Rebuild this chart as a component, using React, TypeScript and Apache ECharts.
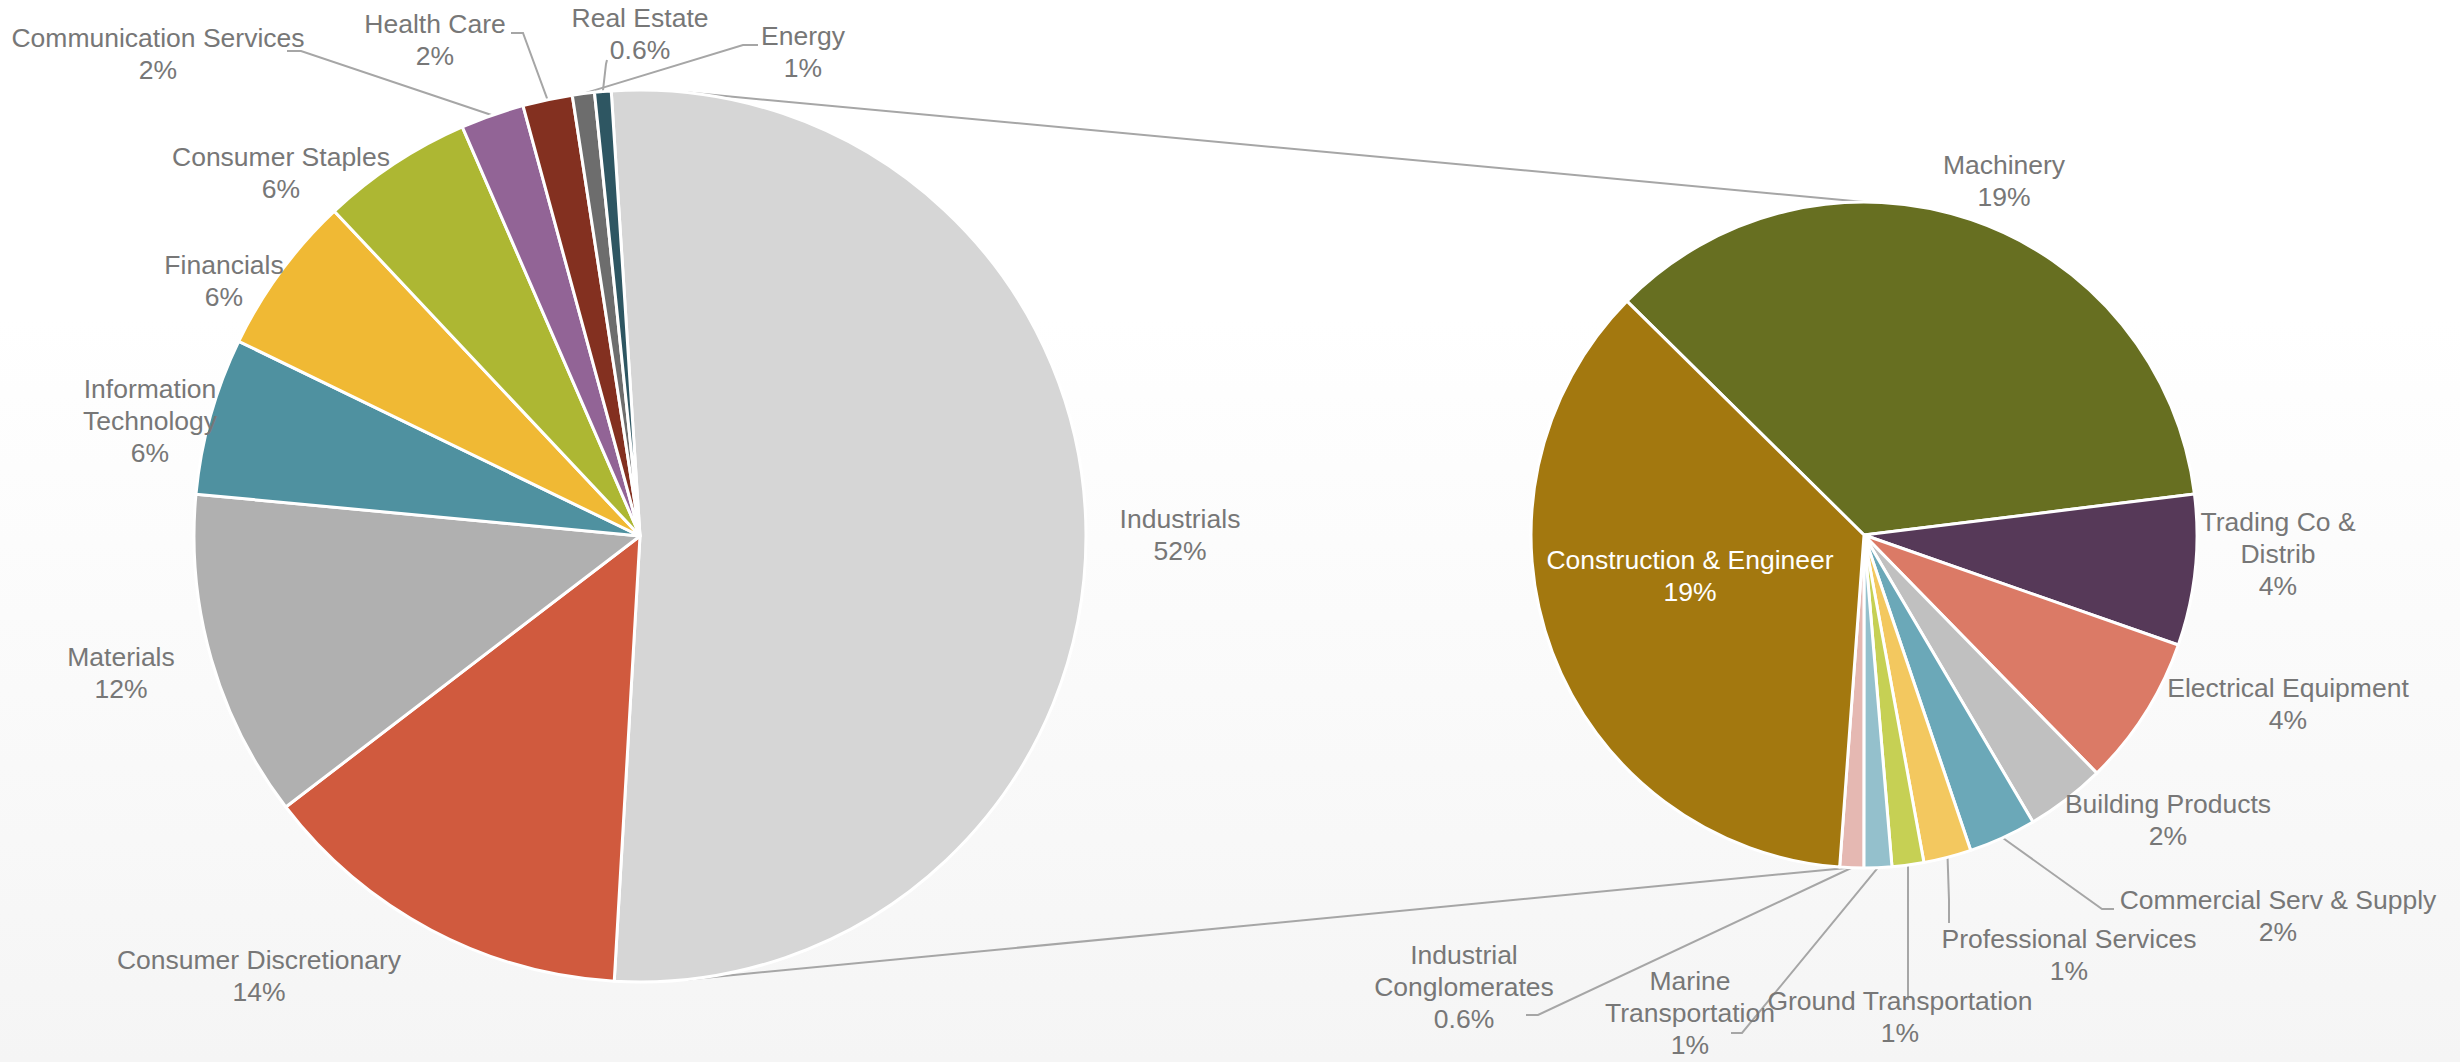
import React, { useEffect, useRef } from "react";
import * as echarts from "echarts";

// ---------------- DATA ----------------
const LEFT_NAMES = [
  "Industrials",
  "Consumer Discretionary",
  "Materials",
  "Information\nTechnology",
  "Financials",
  "Consumer Staples",
  "Communication Services",
  "Health Care",
  "Energy",
  "Real Estate",
];
const LEFT_VALUES = [52.0, 13.7, 11.9, 5.7, 5.8, 5.5, 2.3, 1.8, 0.8, 0.6];
const LEFT_COLORS = [
  "#d6d6d6",
  "#d05a3e",
  "#b0b0b0",
  "#4f91a0",
  "#f0b934",
  "#adb733",
  "#926496",
  "#833020",
  "#6d6d6d",
  "#2e5662",
];

const RIGHT_NAMES = [
  "Machinery",
  "Trading Co &\nDistrib",
  "Electrical Equipment",
  "Building Products",
  "Commercial Serv & Supply",
  "Professional Services",
  "Ground Transportation",
  "Marine\nTransportation",
  "Industrial\nConglomerates",
  "Construction & Engineer",
];
const RIGHT_VALUES = [18.5, 3.8, 3.8, 2.0, 1.7, 1.2, 0.8, 0.7, 0.6, 18.8];
const RIGHT_COLORS = [
  "#676f21",
  "#563958",
  "#db7a66",
  "#c0c0c0",
  "#6ba8b8",
  "#f3c85f",
  "#c6d054",
  "#94c0cc",
  "#e5b8b2",
  "#a3780f",
];

// ---------------- LAYOUT ----------------
const W = 2460;
const H = 1062;
const LEFT_CENTER = [640, 536];
const LEFT_R = 446;
const LEFT_START = 93.7;
const RIGHT_CENTER = [1864, 535];
const RIGHT_R = 333;
const RIGHT_START = 135.4;

// label block centres
const LEFT_LABEL_POS: number[][] = [
  [1180, 535],
  [259, 976],
  [121, 673],
  [150, 421],
  [224, 281],
  [281, 173],
  [158, 54],
  [435, 40],
  [803, 52],
  [640, 34],
];
// leader line bend + end points (null = no leader)
const LEFT_LEADERS: (number[][] | null)[] = [
  null,
  null,
  null,
  null,
  null,
  null,
  [
    [301, 51],
    [287, 51],
  ],
  [
    [523, 33],
    [511, 33],
  ],
  [
    [743, 45],
    [758, 45],
  ],
  [
    [606, 64],
    [607, 60],
  ],
];

const RIGHT_LABEL_POS: number[][] = [
  [2004, 181],
  [2278, 554],
  [2288, 704],
  [2168, 820],
  [2278, 916],
  [2069, 955],
  [1900, 1017],
  [1690, 1013],
  [1464, 987],
  [1690, 576],
];
const RIGHT_LEADERS: (number[][] | null)[] = [
  null,
  null,
  null,
  null,
  [
    [2102, 909],
    [2114, 909],
  ],
  [
    [1949, 900],
    [1949, 923],
  ],
  [
    [1908, 960],
    [1908, 1000],
  ],
  [
    [1742, 1033],
    [1731, 1033],
  ],
  [
    [1538, 1015],
    [1526, 1015],
  ],
  null,
];

const TEXT_COLOR = "#777777";
const LINE_COLOR = "#a6a6a6";
const FONT = "'Liberation Sans', Arial, sans-serif";

const fmtPct = (v: number) =>
  (v < 0.7 ? v.toFixed(1) : String(Math.round(v))) + "%";

const makeLayout =
  (pos: number[][], leaders: (number[][] | null)[]) => (params: any) => {
    const i = params.dataIndex;
    const res: any = {
      x: pos[i][0],
      y: pos[i][1],
      align: "center",
      verticalAlign: "middle",
    };
    const l = leaders[i];
    if (l && params.labelLinePoints && params.labelLinePoints.length) {
      res.labelLinePoints = [params.labelLinePoints[0], l[0], l[1]];
    }
    return res;
  };

const buildData = (
  names: string[],
  values: number[],
  colors: string[],
  leaders: (number[][] | null)[],
  whiteIdx: number
) =>
  names.map((n, i) => ({
    name: n,
    value: values[i],
    itemStyle: { color: colors[i] },
    labelLine: { show: !!leaders[i] },
    label: i === whiteIdx ? { color: "#ffffff" } : {},
  }));

export default function App() {
  const ref = useRef<HTMLDivElement>(null);

  useEffect(() => {
    if (!ref.current) return;
    const chart = echarts.init(ref.current, undefined, { renderer: "svg" });

    const rad = Math.PI / 180;
    const leftConnAngle = 5.9 * rad;
    const rightConnAngle = 2.5 * rad;
    const lTop = [
      LEFT_CENTER[0] + LEFT_R * Math.sin(leftConnAngle),
      LEFT_CENTER[1] - LEFT_R * Math.cos(leftConnAngle),
    ];
    const lBot = [
      LEFT_CENTER[0] + LEFT_R * Math.sin(leftConnAngle),
      LEFT_CENTER[1] + LEFT_R * Math.cos(leftConnAngle),
    ];
    const rTop = [RIGHT_CENTER[0], RIGHT_CENTER[1] - RIGHT_R];
    const rBot = [
      RIGHT_CENTER[0] - RIGHT_R * Math.sin(rightConnAngle),
      RIGHT_CENTER[1] + RIGHT_R * Math.cos(rightConnAngle),
    ];

    const labelBase = {
      show: true,
      position: "outside",
      color: TEXT_COLOR,
      fontFamily: FONT,
      fontSize: 26.5,
      lineHeight: 32,
      formatter: (p: any) => `${p.name}\n${fmtPct(p.value)}`,
    };

    const option: any = {
      animation: false,
      backgroundColor: {
        type: "linear",
        x: 0,
        y: 0,
        x2: 0,
        y2: 1,
        colorStops: [
          { offset: 0, color: "#ffffff" },
          { offset: 0.3, color: "#ffffff" },
          { offset: 1, color: "#f5f5f5" },
        ],
      },
      graphic: [
        {
          type: "line",
          silent: true,
          shape: { x1: lTop[0], y1: lTop[1], x2: rTop[0], y2: rTop[1] },
          style: { stroke: LINE_COLOR, lineWidth: 2 },
        },
        {
          type: "line",
          silent: true,
          shape: { x1: lBot[0], y1: lBot[1], x2: rBot[0], y2: rBot[1] },
          style: { stroke: LINE_COLOR, lineWidth: 2 },
        },
      ],
      series: [
        {
          type: "pie",
          center: LEFT_CENTER,
          radius: LEFT_R,
          startAngle: LEFT_START,
          clockwise: true,
          avoidLabelOverlap: false,
          emphasis: { disabled: true },
          itemStyle: { borderColor: "#ffffff", borderWidth: 3 },
          label: labelBase,
          labelLine: {
            show: true,
            lineStyle: { color: LINE_COLOR, width: 2 },
          },
          labelLayout: makeLayout(LEFT_LABEL_POS, LEFT_LEADERS),
          data: buildData(LEFT_NAMES, LEFT_VALUES, LEFT_COLORS, LEFT_LEADERS, -1),
        },
        {
          type: "pie",
          center: RIGHT_CENTER,
          radius: RIGHT_R,
          startAngle: RIGHT_START,
          clockwise: true,
          avoidLabelOverlap: false,
          emphasis: { disabled: true },
          itemStyle: { borderColor: "#ffffff", borderWidth: 3 },
          label: labelBase,
          labelLine: {
            show: true,
            lineStyle: { color: LINE_COLOR, width: 2 },
          },
          labelLayout: makeLayout(RIGHT_LABEL_POS, RIGHT_LEADERS),
          data: buildData(
            RIGHT_NAMES,
            RIGHT_VALUES,
            RIGHT_COLORS,
            RIGHT_LEADERS,
            9
          ),
        },
      ],
    };

    chart.setOption(option);
    return () => chart.dispose();
  }, []);

  return (
    <div
      ref={ref}
      style={{
        position: "absolute",
        left: 0,
        top: 0,
        width: W,
        height: H,
      }}
    />
  );
}
